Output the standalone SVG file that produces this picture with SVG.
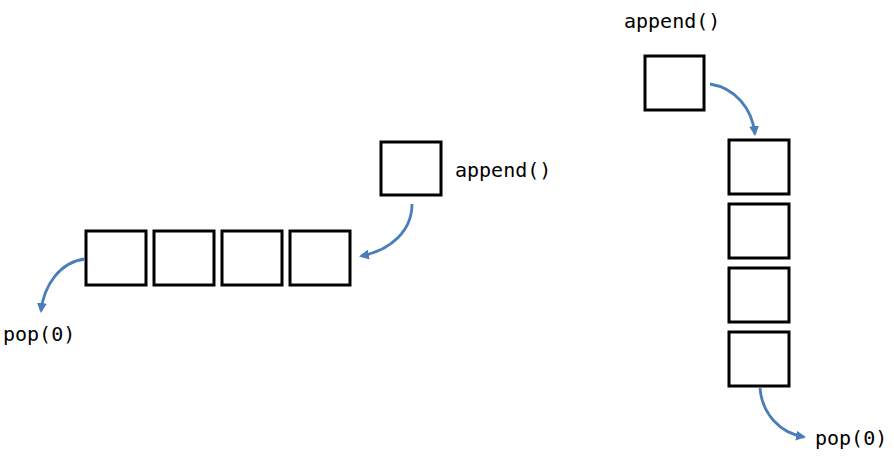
<svg xmlns="http://www.w3.org/2000/svg" width="894" height="459" viewBox="0 0 894 459">
<style>
.box{fill:#fff;stroke:#000;stroke-width:3}
.lbl{font-family:"DejaVu Sans Mono","Liberation Mono",monospace;font-size:20px;fill:#000}
.arr{fill:none;stroke:#4a7ebb;stroke-width:2.8;marker-end:url(#ah)}
</style>
<defs>
<marker id="ah" viewBox="0 0 10 10" refX="8" refY="5" markerWidth="10" markerHeight="10" orient="auto" markerUnits="userSpaceOnUse">
<path d="M0,0 L10,5 L0,10 Z" fill="#4a7ebb"/>
</marker>
</defs>
<rect width="894" height="459" fill="#fff"/>
<g id="left-queue">
<rect class="box" x="86" y="231" width="60" height="54"/>
<rect class="box" x="154" y="231" width="60" height="54"/>
<rect class="box" x="222" y="231" width="60" height="54"/>
<rect class="box" x="290" y="231" width="60" height="54"/>
</g>
<g id="left-new">
<rect class="box" x="381" y="142" width="60" height="53"/>
<text class="lbl" x="455" y="177">append()</text>
</g>
<g id="left-pop">
<text class="lbl" x="3" y="341">pop(0)</text>
</g>
<g id="right-new">
<rect class="box" x="645" y="56" width="59" height="54"/>
<text class="lbl" x="624" y="28">append()</text>
</g>
<g id="right-queue">
<rect class="box" x="729" y="140" width="60" height="54"/>
<rect class="box" x="729" y="204" width="60" height="54"/>
<rect class="box" x="729" y="268" width="60" height="54"/>
<rect class="box" x="729" y="332" width="60" height="54"/>
</g>
<g id="right-pop">
<text class="lbl" x="815" y="445">pop(0)</text>
</g>
<g id="connectors">
<path class="arr" d="M412,204 C412,230 392,250 361,256"/>
<path class="arr" d="M85,259 C60,262 44,285 41,311"/>
<path class="arr" d="M710,84 C735,88 752,108 755,134"/>
<path class="arr" d="M760,388 C762,414 780,433 804,437"/>
</g>
</svg>
